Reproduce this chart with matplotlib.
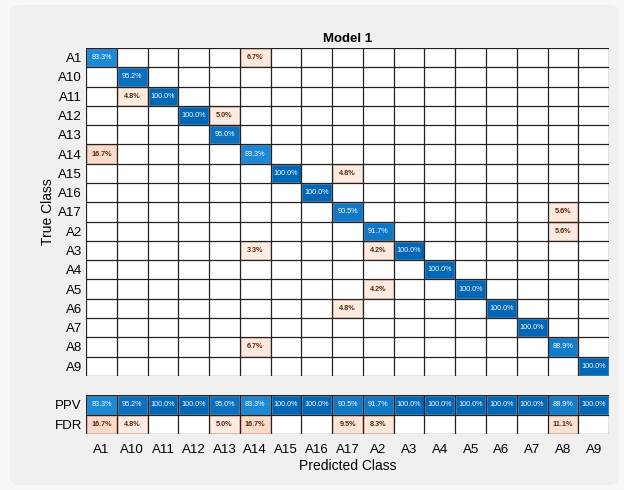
import matplotlib
matplotlib.use('Agg')
import matplotlib.pyplot as plt
from matplotlib.patches import Rectangle, FancyBboxPatch
import numpy as np

classes = ['A1', 'A10', 'A11', 'A12', 'A13', 'A14', 'A15', 'A16', 'A17',
           'A2', 'A3', 'A4', 'A5', 'A6', 'A7', 'A8', 'A9']

# column-normalised confusion matrix (%), rows = true class, cols = predicted class
cm = [
    # A1   A10   A11    A12    A13   A14   A15    A16    A17   A2    A3     A4     A5     A6     A7     A8    A9
    [83.3, 0,    0,     0,     0,    6.7,  0,     0,     0,    0,    0,     0,     0,     0,     0,     0,    0],
    [0,    95.2, 0,     0,     0,    0,    0,     0,     0,    0,    0,     0,     0,     0,     0,     0,    0],
    [0,    4.8,  100.0, 0,     0,    0,    0,     0,     0,    0,    0,     0,     0,     0,     0,     0,    0],
    [0,    0,    0,     100.0, 5.0,  0,    0,     0,     0,    0,    0,     0,     0,     0,     0,     0,    0],
    [0,    0,    0,     0,     95.0, 0,    0,     0,     0,    0,    0,     0,     0,     0,     0,     0,    0],
    [16.7, 0,    0,     0,     0,    83.3, 0,     0,     0,    0,    0,     0,     0,     0,     0,     0,    0],
    [0,    0,    0,     0,     0,    0,    100.0, 0,     4.8,  0,    0,     0,     0,     0,     0,     0,    0],
    [0,    0,    0,     0,     0,    0,    0,     100.0, 0,    0,    0,     0,     0,     0,     0,     0,    0],
    [0,    0,    0,     0,     0,    0,    0,     0,     90.5, 0,    0,     0,     0,     0,     0,     5.6,  0],
    [0,    0,    0,     0,     0,    0,    0,     0,     0,    91.7, 0,     0,     0,     0,     0,     5.6,  0],
    [0,    0,    0,     0,     0,    3.3,  0,     0,     0,    4.2,  100.0, 0,     0,     0,     0,     0,    0],
    [0,    0,    0,     0,     0,    0,    0,     0,     0,    0,    0,     100.0, 0,     0,     0,     0,    0],
    [0,    0,    0,     0,     0,    0,    0,     0,     0,    4.2,  0,     0,     100.0, 0,     0,     0,    0],
    [0,    0,    0,     0,     0,    0,    0,     0,     4.8,  0,    0,     0,     0,     100.0, 0,     0,    0],
    [0,    0,    0,     0,     0,    0,    0,     0,     0,    0,    0,     0,     0,     0,     100.0, 0,    0],
    [0,    0,    0,     0,     0,    6.7,  0,     0,     0,    0,    0,     0,     0,     0,     0,     88.9, 0],
    [0,    0,    0,     0,     0,    0,    0,     0,     0,    0,    0,     0,     0,     0,     0,     0,    100.0],
]

ppv = [83.3, 95.2, 100.0, 100.0, 95.0, 83.3, 100.0, 100.0, 90.5,
       91.7, 100.0, 100.0, 100.0, 100.0, 100.0, 88.9, 100.0]
fdr = [16.7, 4.8, 0, 0, 5.0, 16.7, 0, 0, 9.5,
       8.3, 0, 0, 0, 0, 0, 11.1, 0]

n = len(classes)
plt.rcParams['font.family'] = ['Liberation Sans', 'DejaVu Sans']


def blue(v):
    # darker blue for higher percentage
    t = np.clip((v - 80.0) / 20.0, 0, 1)
    light = np.array([0x22, 0x90, 0xdc]) / 255
    dark = np.array([0x00, 0x66, 0xb6]) / 255
    return tuple(light * (1 - t) + dark * t)


def salmon(v):
    t = np.clip(v / 20.0, 0, 1)
    light = np.array([0xfe, 0xf1, 0xea]) / 255
    dark = np.array([0xfb, 0xd6, 0xc4]) / 255
    return tuple(light * (1 - t) + dark * t)


def draw_cell(ax, x, y, v, good):
    if v <= 0:
        return
    fc = blue(v) if good else salmon(v)
    tc = 'white' if good else '#5e260a'
    ec = '#1f5f99' if good else '#f0b090'
    ax.add_patch(Rectangle((x - 0.47, y - 0.45), 0.94, 0.9, facecolor=fc,
                           edgecolor=ec, linewidth=0.4, zorder=1))
    ax.text(x, y, f'{v:.1f}%', ha='center', va='center', fontsize=5.2,
            color=tc, fontweight='normal' if good else 'bold', zorder=3)


def draw_grid(ax, nrows):
    for k in range(n + 1):
        ax.axvline(k - 0.5, color='#222222', linewidth=0.9, zorder=2)
    for k in range(nrows + 1):
        ax.axhline(k - 0.5, color='#222222', linewidth=0.9, zorder=2)
    ax.set_xlim(-0.5, n - 0.5)
    ax.set_ylim(nrows - 0.5, -0.5)
    for s in ax.spines.values():
        s.set_visible(False)
    ax.tick_params(length=0, labelsize=9.5, pad=3)


fig = plt.figure(figsize=(6.24, 4.90), dpi=100)
fig.patch.set_facecolor('#f8f8f8')
panel = FancyBboxPatch((0.016, 0.01), 0.975, 0.98,
                       boxstyle='round,pad=0,rounding_size=0.015',
                       transform=fig.transFigure, facecolor='#f0f0f0',
                       edgecolor='none', zorder=-10)
fig.add_artist(panel)

ax = fig.add_axes([0.138, 0.233, 0.838, 0.669])
ax.set_facecolor('white')
for i in range(n):
    for j in range(n):
        draw_cell(ax, j, i, cm[i][j], i == j)
draw_grid(ax, n)
ax.set_yticks(range(n))
ax.set_yticklabels(classes)
ax.set_xticks([])
ax.set_ylabel('True Class', fontsize=10, labelpad=2)
ax.set_title('Model 1', fontsize=9.5, fontweight='bold', pad=4)

ax2 = fig.add_axes([0.138, 0.114, 0.838, 0.080])
ax2.set_facecolor('white')
for j in range(n):
    draw_cell(ax2, j, 0, ppv[j], True)
    draw_cell(ax2, j, 1, fdr[j], False)
draw_grid(ax2, 2)
ax2.set_yticks([0, 1])
ax2.set_yticklabels(['PPV', 'FDR'])
ax2.set_xticks(range(n))
ax2.set_xticklabels(classes)
ax2.tick_params(axis='x', pad=7)
ax2.set_xlabel('Predicted Class', fontsize=10, labelpad=2)

fig.savefig('out.png', dpi=100, facecolor=fig.get_facecolor())
